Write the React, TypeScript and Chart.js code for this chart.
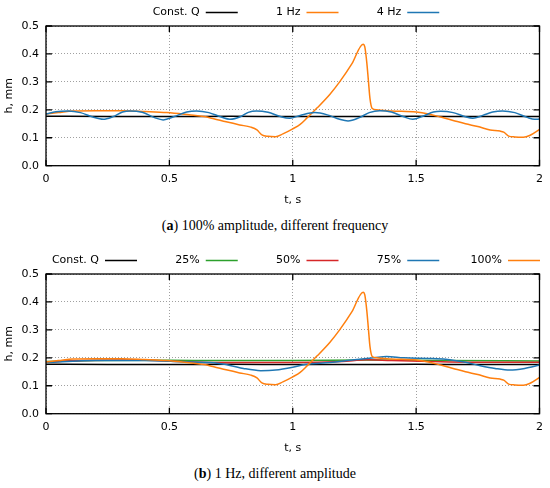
import React, { useEffect, useRef } from 'react'
import { Chart, registerables } from 'chart.js'

Chart.register(...registerables)

// tick values
const xTickValues = [0, 0.5, 1, 1.5, 2]
const yTickValues = [0, 0.1, 0.2, 0.3, 0.4, 0.5]

// Const. Q (both panels)
const constQT = [0, 0.25, 0.5, 0.75, 1, 1.25, 1.5, 1.75, 2]
const constQH = [0.177, 0.176, 0.176, 0.177, 0.176, 0.176, 0.177, 0.176, 0.176]

// 1 Hz / 100% amplitude
const hz1T = [0, 0.05, 0.11, 0.2, 0.31, 0.4, 0.49, 0.58, 0.64, 0.68, 0.73, 0.785, 0.83, 0.855, 0.875, 0.9, 0.93, 0.96, 1.0, 1.03, 1.06, 1.1, 1.15, 1.19, 1.24, 1.285, 1.292, 1.3, 1.307, 1.313, 1.322, 1.34, 1.4, 1.5, 1.55, 1.6, 1.65, 1.7, 1.75, 1.8, 1.84, 1.855, 1.875, 1.9, 1.935, 1.96, 2.0]
const hz1H = [0.185, 0.19, 0.196, 0.197, 0.197, 0.194, 0.19, 0.182, 0.176, 0.168, 0.157, 0.146, 0.138, 0.128, 0.11, 0.105, 0.104, 0.114, 0.132, 0.148, 0.173, 0.208, 0.255, 0.3, 0.365, 0.435, 0.425, 0.37, 0.3, 0.24, 0.205, 0.2, 0.196, 0.192, 0.185, 0.174, 0.162, 0.15, 0.14, 0.128, 0.124, 0.12, 0.106, 0.103, 0.102, 0.108, 0.13]

// 4 Hz
const hz4T = [0, 0.04, 0.09, 0.14, 0.19, 0.232, 0.27, 0.31, 0.34, 0.39, 0.44, 0.475, 0.52, 0.57, 0.61, 0.66, 0.71, 0.745, 0.79, 0.82, 0.853, 0.9, 0.95, 0.988, 1.03, 1.09, 1.14, 1.19, 1.224, 1.27, 1.31, 1.352, 1.4, 1.45, 1.486, 1.53, 1.57, 1.6, 1.65, 1.7, 1.73, 1.77, 1.81, 1.85, 1.9, 1.95, 1.98, 2.0]
const hz4H = [0.185, 0.193, 0.196, 0.19, 0.174, 0.166, 0.175, 0.192, 0.196, 0.191, 0.172, 0.164, 0.176, 0.192, 0.196, 0.19, 0.174, 0.166, 0.176, 0.191, 0.196, 0.191, 0.176, 0.17, 0.18, 0.19, 0.182, 0.166, 0.16, 0.172, 0.19, 0.197, 0.192, 0.175, 0.166, 0.178, 0.192, 0.195, 0.19, 0.175, 0.17, 0.18, 0.192, 0.196, 0.19, 0.173, 0.166, 0.167]

// 25% amplitude
const amp25T = [0, 0.2, 0.5, 0.7, 1.0, 1.3, 1.6, 2.0]
const amp25H = [0.187, 0.19, 0.191, 0.19, 0.19, 0.192, 0.19, 0.189]

// 50% amplitude
const amp50T = [0, 0.15, 0.35, 0.55, 0.7, 1.0, 1.2, 1.3, 1.4, 1.6, 1.8, 2.0]
const amp50H = [0.185, 0.19, 0.192, 0.187, 0.183, 0.183, 0.187, 0.193, 0.19, 0.186, 0.184, 0.184]

// 75% amplitude
const amp75T = [0, 0.2, 0.4, 0.55, 0.68, 0.75, 0.8, 0.87, 0.93, 1.0, 1.05, 1.15, 1.25, 1.33, 1.38, 1.45, 1.55, 1.62, 1.7, 1.76, 1.82, 1.88, 1.94, 2.0]
const amp75H = [0.183, 0.19, 0.19, 0.186, 0.182, 0.172, 0.162, 0.154, 0.156, 0.166, 0.176, 0.183, 0.193, 0.2, 0.205, 0.2, 0.198, 0.195, 0.184, 0.172, 0.162, 0.156, 0.162, 0.174]

const BLACK = '#000000'
const ORANGE = '#ff7f0e'
const BLUE = '#1f77b4'
const GREEN = '#2ca02c'
const RED = '#d62728'

interface Series {
  label: string
  color: string
  t: number[]
  h: number[]
}

const panelA: Series[] = [
  { label: 'Const. Q', color: BLACK, t: constQT, h: constQH },
  { label: '1 Hz', color: ORANGE, t: hz1T, h: hz1H },
  { label: '4 Hz', color: BLUE, t: hz4T, h: hz4H },
]

const panelB: Series[] = [
  { label: 'Const. Q', color: BLACK, t: constQT, h: constQH },
  { label: '25%', color: GREEN, t: amp25T, h: amp25H },
  { label: '50%', color: RED, t: amp50T, h: amp50H },
  { label: '75%', color: BLUE, t: amp75T, h: amp75H },
  { label: '100%', color: ORANGE, t: hz1T, h: hz1H },
]

const FONT = "'DejaVu Sans', sans-serif"
const CANVAS_W = 550
const CANVAS_H = 212
const TICK_LEN = 6

// gnuplot style key: text right-aligned, sample line after it
const keyPlugin = {
  id: 'key',
  afterDraw(chart: any) {
    const { ctx } = chart
    const sets = chart.data.datasets
    const n = sets.length
    ctx.save()
    ctx.font = `11px ${FONT}`
    ctx.textAlign = 'right'
    ctx.textBaseline = 'middle'
    sets.forEach((ds: any, i: number) => {
      const end = 300.5 + (i - (n - 1) / 2) * 100.75
      ctx.fillStyle = '#000'
      ctx.fillText(ds.label, end, 12)
      ctx.strokeStyle = ds.borderColor
      ctx.lineWidth = 1.5
      ctx.beginPath()
      ctx.moveTo(end + 6, 12.5)
      ctx.lineTo(end + 38, 12.5)
      ctx.stroke()
    })
    ctx.restore()
  },
}

// closed border with inward ticks on all sides
const framePlugin = {
  id: 'frame',
  afterDatasetsDraw(chart: any) {
    const { ctx, chartArea: a, scales } = chart
    ctx.save()
    ctx.strokeStyle = '#000'
    ctx.lineWidth = 1.3
    ctx.setLineDash([])
    ctx.beginPath()
    for (const tk of scales.x.ticks) {
      const px = scales.x.getPixelForValue(tk.value)
      ctx.moveTo(px, a.bottom)
      ctx.lineTo(px, a.bottom - TICK_LEN)
      ctx.moveTo(px, a.top)
      ctx.lineTo(px, a.top + TICK_LEN)
    }
    for (const tk of scales.y.ticks) {
      const py = scales.y.getPixelForValue(tk.value)
      ctx.moveTo(a.left, py)
      ctx.lineTo(a.left + TICK_LEN, py)
      ctx.moveTo(a.right, py)
      ctx.lineTo(a.right - TICK_LEN, py)
    }
    ctx.stroke()
    ctx.strokeRect(a.left, a.top, a.right - a.left, a.bottom - a.top)
    ctx.restore()
  },
}

function Panel({ series }: { series: Series[] }) {
  const canvasRef = useRef<HTMLCanvasElement>(null)
  const chartInstance = useRef<Chart | null>(null)

  useEffect(() => {
    if (!canvasRef.current) return
    if (chartInstance.current) chartInstance.current.destroy()

    const n = series.length
    chartInstance.current = new Chart(canvasRef.current, {
      type: 'line',
      data: {
        datasets: series.map((s, i) => ({
          label: s.label,
          data: s.t.map((t, k) => ({ x: t, y: s.h[k] })),
          borderColor: s.color,
          backgroundColor: s.color,
          borderWidth: 1.5,
          pointRadius: 0,
          cubicInterpolationMode: 'monotone' as const,
          fill: false,
          order: n - i,
        })),
      },
      options: {
        responsive: false,
        animation: false,
        layout: { padding: { top: 26, right: 10, left: 0, bottom: 0 } },
        plugins: { legend: { display: false }, tooltip: { enabled: false } },
        scales: {
          x: {
            type: 'linear',
            min: 0,
            max: 2,
            afterBuildTicks: (s: any) => { s.ticks = xTickValues.map((value) => ({ value })) },
            afterFit: (s: any) => { s.height = 46.3 },
            ticks: {
              padding: 7,
              color: '#000',
              font: { family: FONT, size: 11 },
              callback: (v: any) => String(v),
            },
            grid: { color: '#a0a0a0', lineWidth: 1, drawTicks: false },
            border: { display: false, dash: [1, 2] },
            title: {
              display: true,
              text: 't, s',
              color: '#000',
              font: { family: FONT, size: 11 },
              padding: { top: 0, bottom: 5 },
            },
          },
          y: {
            type: 'linear',
            min: 0,
            max: 0.5,
            afterBuildTicks: (s: any) => { s.ticks = yTickValues.map((value) => ({ value })) },
            afterFit: (s: any) => { s.width = 46 },
            ticks: {
              padding: 7,
              color: '#000',
              font: { family: FONT, size: 11 },
              callback: (v: any) => Number(v).toFixed(1),
            },
            grid: { color: '#a0a0a0', lineWidth: 1, drawTicks: false },
            border: { display: false, dash: [1, 2] },
            title: {
              display: true,
              text: 'h, mm',
              color: '#000',
              font: { family: FONT, size: 11 },
              padding: { top: 3, bottom: 0 },
            },
          },
        },
      },
      plugins: [keyPlugin, framePlugin],
    })

    return () => chartInstance.current?.destroy()
  }, [series])

  return (
    <canvas
      ref={canvasRef}
      width={CANVAS_W}
      height={CANVAS_H}
      style={{ display: 'block', width: CANVAS_W, height: CANVAS_H }}
    />
  )
}

const captionStyle: React.CSSProperties = {
  height: 28,
  lineHeight: '28px',
  textAlign: 'center',
  fontFamily: "'Liberation Serif', serif",
  fontSize: 14,
  color: '#000',
}

export default function App() {
  return (
    <div style={{ position: 'absolute', left: 0, top: 0, width: 550, height: 488, background: '#fff' }}>
      <div style={{ position: 'absolute', left: 0, top: 0, width: 550 }}>
        <Panel series={panelA} />
        <div style={captionStyle}>
          (<b>a</b>) 100% amplitude, different frequency
        </div>
      </div>
      <div style={{ position: 'absolute', left: 0, top: 248, width: 550 }}>
        <Panel series={panelB} />
        <div style={captionStyle}>
          (<b>b</b>) 1 Hz, different amplitude
        </div>
      </div>
    </div>
  )
}
